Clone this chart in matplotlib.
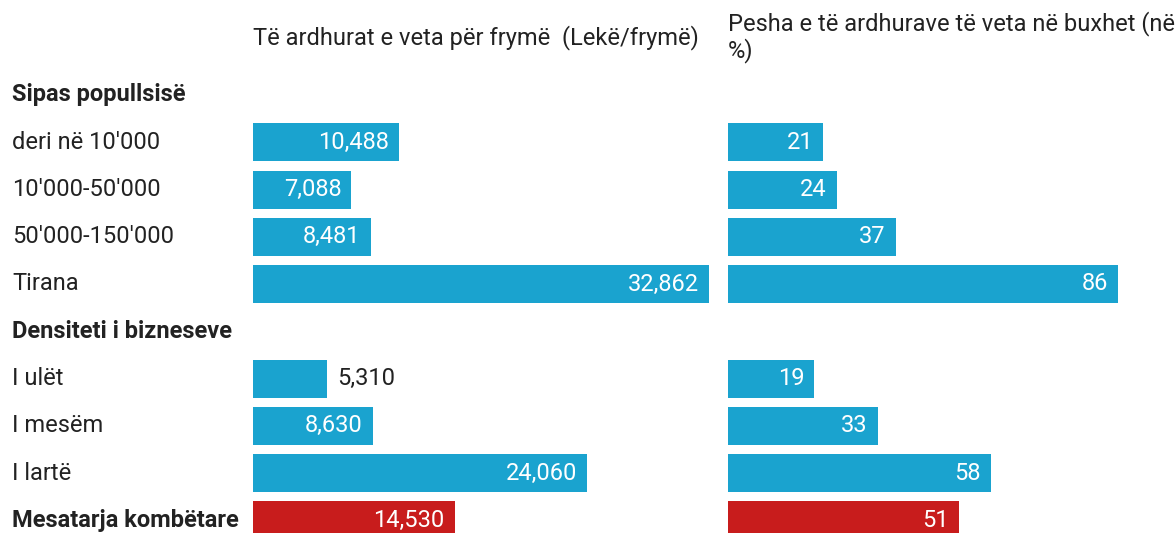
import matplotlib.pyplot as plt

plt.rcParams["font.family"] = ["Roboto", "DejaVu Sans"]

# rows from top to bottom; None marks a group header row
row_labels = ["Sipas popullsisë", "deri në 10'000", "10'000-50'000", "50'000-150'000",
              "Tirana", "Densiteti i bizneseve", "I ulët", "I mesëm", "I lartë",
              "Mesatarja kombëtare"]
is_bold = [True, False, False, False, False, True, False, False, False, True]
income = [None, 10488, 7088, 8481, 32862, None, 5310, 8630, 24060, 14530]
share = [None, 21, 24, 37, 86, None, 19, 33, 58, 51]
is_national = [False] * 9 + [True]

title_left = "Të ardhurat e veta për frymë  (Lekë/frymë)"
title_right = "Pesha e të ardhurave të veta në buxhet (në\n%)"

BLUE = "#1aa3cf"
RED = "#c81c1c"
TEXT = "#222222"
FS = 17

W, H = 1176, 533
fig = plt.figure(figsize=(W / 100, H / 100), dpi=100)

top, step, bar_h = 95, 47.25, 38
ys = [top + i * step for i in range(len(row_labels))]


def panel(left_px, width_px, values, vmax, fmt):
    ax = fig.add_axes([left_px / W, 0, width_px / W, 1])
    ax.set_xlim(0, vmax)
    ax.set_ylim(H, 0)
    ax.axis("off")
    px_per_unit = width_px / vmax
    for y, v, nat in zip(ys, values, is_national):
        if v is None:
            continue
        ax.barh(y, v, height=bar_h, color=RED if nat else BLUE, clip_on=False)
        label = fmt(v)
        if v * px_per_unit < 80:
            ax.text(v + 10 / px_per_unit, y, label, ha="left", va="center",
                    color=TEXT, fontsize=FS)
        else:
            ax.text(v - 10 / px_per_unit, y, label, ha="right", va="center",
                    color="white", fontsize=FS)
    return ax


panel(253, 456, income, 32862, lambda v: f"{v:,}")
panel(728, 390, share, 86, lambda v: f"{v}")

for y, lab, bold in zip(ys, row_labels, is_bold):
    fig.text(12 / W, 1 - y / H, lab, ha="left", va="center", color=TEXT,
             fontsize=FS, fontweight="bold" if bold else "normal")

fig.text(253 / W, 1 - 38 / H, title_left, ha="left", va="center",
         color=TEXT, fontsize=FS)
fig.text(728 / W, 1 - 37 / H, title_right, ha="left", va="center",
         color=TEXT, fontsize=FS, linespacing=1.1)

fig.savefig("out.png", dpi=100)
